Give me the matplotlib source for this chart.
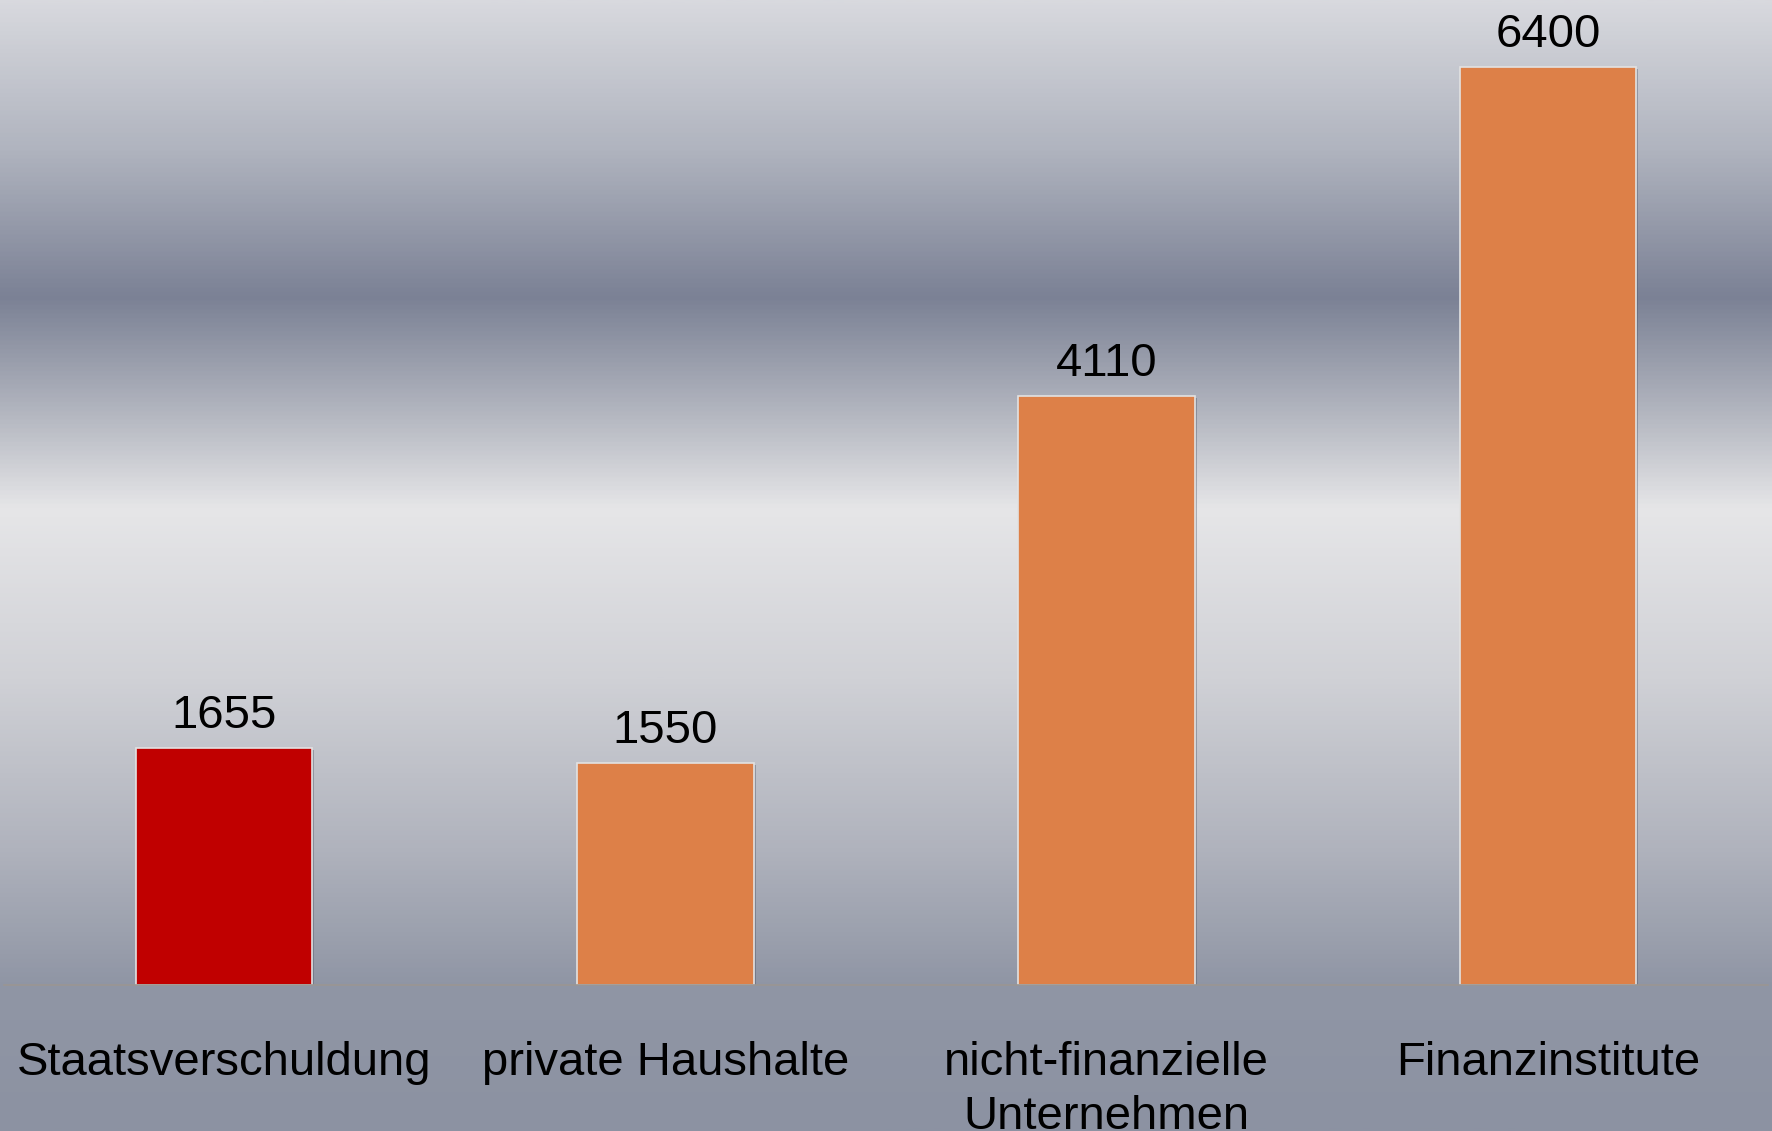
import matplotlib
matplotlib.use('Agg')
import matplotlib.pyplot as plt
import matplotlib.patheffects as pe
from matplotlib.colors import LinearSegmentedColormap
import numpy as np

categories = ['Staatsverschuldung', 'private Haushalte', 'nicht-finanzielle\nUnternehmen', 'Finanzinstitute']
values = [1655, 1550, 4110, 6400]
bar_colors = ['#c00000', '#dd8048', '#dd8048', '#dd8048']

plt.rcParams['font.family'] = ['Liberation Sans', 'DejaVu Sans']

fig = plt.figure(figsize=(17.72, 11.31), dpi=100)

# background gradient, top to bottom
bg = fig.add_axes([0, 0, 1, 1], zorder=0)
stops = [(0.0, '#d8d9de'), (0.13, '#b0b4bf'), (0.262, '#7b8195'),
         (0.30, '#8f94a4'), (0.37, '#b6b9c2'), (0.45, '#e6e6e8'),
         (0.60, '#d0d1d6'), (0.75, '#b0b3bd'), (0.87, '#9096a5'), (1.0, '#8c92a2')]
cmap = LinearSegmentedColormap.from_list('bg', stops)
grad = np.linspace(0, 1, 512).reshape(-1, 1)
bg.imshow(grad, aspect='auto', cmap=cmap, extent=[0, 1, 0, 1], origin='upper')
bg.axis('off')

ax = fig.add_axes([0.002, 0.129, 0.996, 0.871], zorder=1)
ax.patch.set_alpha(0)
x = np.arange(len(categories))
bars = ax.bar(x, values, width=0.4, color=bar_colors, edgecolor='#e2e2e2', linewidth=1.2)
for b in bars:
    b.set_path_effects([pe.SimplePatchShadow(offset=(1.5, -1.5), shadow_rgbFace='#404656', alpha=0.35), pe.Normal()])

for xi, v in zip(x, values):
    ax.annotate(f'{v}', (xi, v), xytext=(0, 14.5), textcoords='offset points',
                ha='center', va='baseline', fontsize=34, color='black')

ax.set_xlim(-0.5, 3.5)
ax.set_ylim(0, 6870)
ax.set_xticks(x)
ax.set_xticklabels(categories, fontsize=34, linespacing=1.3)
ax.tick_params(axis='x', length=0, pad=40)
ax.set_yticks([])
for s in ['top', 'left', 'right']:
    ax.spines[s].set_visible(False)
ax.spines['bottom'].set_color('#9a9693')
ax.spines['bottom'].set_linewidth(1.2)

fig.savefig('out.png', dpi=100)
